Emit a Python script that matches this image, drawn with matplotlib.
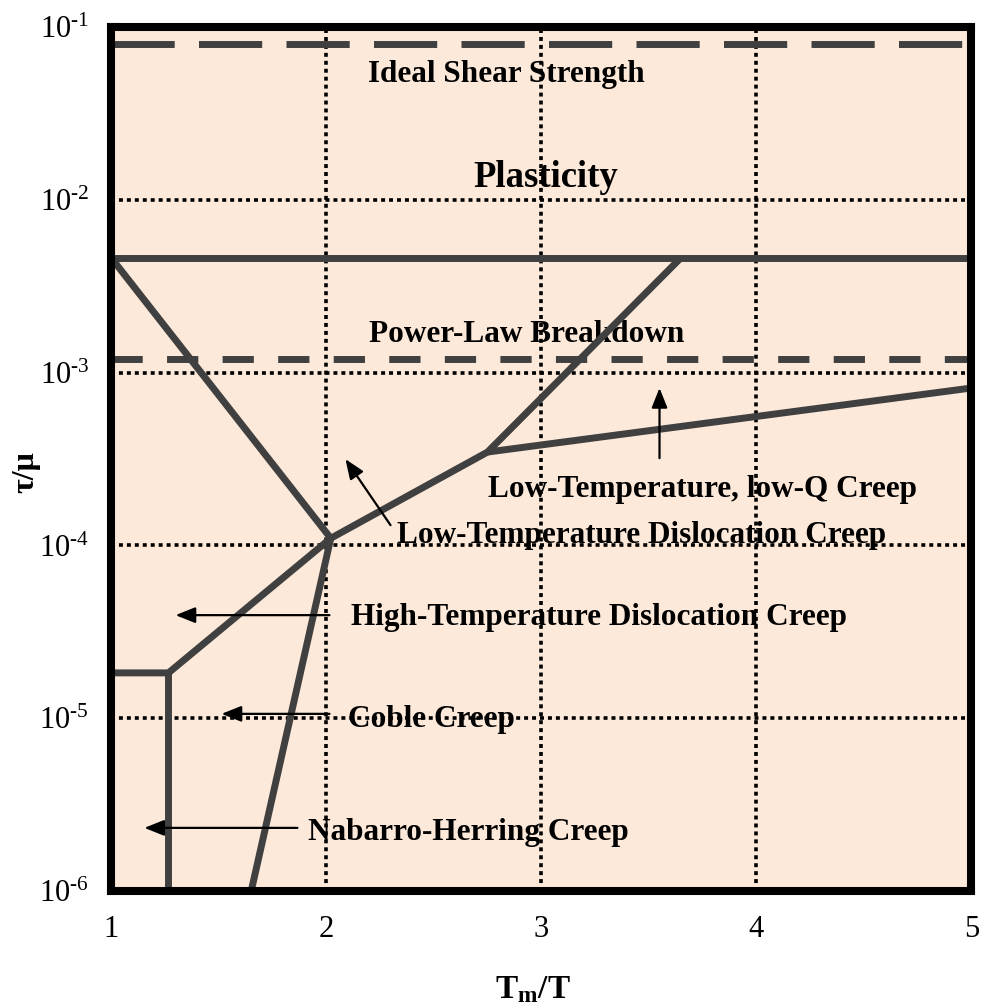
import matplotlib
matplotlib.use("Agg")
import matplotlib.pyplot as plt

plt.rcParams['font.family'] = ['Liberation Serif', 'DejaVu Serif']
plt.rcParams['mathtext.fontset'] = 'custom'
plt.rcParams['mathtext.rm'] = 'Liberation Serif'
plt.rcParams['mathtext.bf'] = 'Liberation Serif:bold'
plt.rcParams['mathtext.it'] = 'Liberation Serif:italic'

# --- ejes ---
x_ticks = [1, 2, 3, 4, 5]
y_ticks = [1e-1, 1e-2, 1e-3, 1e-4, 1e-5, 1e-6]
y_tick_labels = ['$10^{\u2010' + str(k) + '}$' for k in range(1, 7)]
grid_x = [2, 3, 4]
grid_y = [1e-2, 1e-3, 1e-4, 1e-5]

# --- límites de mecanismos (Tm/T, tau/mu) ---
plast_x, plast_y = [1.0, 5.0], [4.6e-3, 4.6e-3]
ltc_x, ltc_y = [1.0, 2.02, 1.65], [4.6e-3, 1.1e-4, 1e-6]
htc_x, htc_y = [1.0, 1.265, 2.02, 2.749, 3.647], [1.83e-5, 1.83e-5, 1.1e-4, 3.47e-4, 4.6e-3]
nh_x, nh_y = [1.265, 1.265], [1.83e-5, 1e-6]
lowq_x, lowq_y = [2.749, 5.0], [3.47e-4, 8.15e-4]
ideal_y = 0.08
plb_y = 1.2e-3

# --- flechas: (cola, punta) ---
arrows = [
    ((3.549, 3.2e-4), (3.549, 8.15e-4)),
    ((2.298, 1.31e-4), (2.088, 3.16e-4)),
    ((2.014, 3.95e-5), (1.298, 3.95e-5)),
    ((2.014, 1.06e-5), (1.512, 1.06e-5)),
    ((1.865, 2.32e-6), (1.153, 2.32e-6)),
]

# --- etiquetas: (texto, x, y, alineación, tamaño) ---
labels = [
    ('Ideal Shear Strength', 2.837, 0.0481, 'center', 22.5),
    ('Plasticity', 3.019, 0.01186, 'center', 26.5),
    ('Power-Law Breakdown', 2.930, 1.5e-3, 'center', 22.5),
    ('Low-Temperature, low-Q Creep', 2.753, 1.9e-4, 'left', 22.5),
    ('Low-Temperature Dislocation Creep', 2.330, 1.03e-4, 'left', 22.5),
    ('High-Temperature Dislocation Creep', 2.112, 3.46e-5, 'left', 22.5),
    ('Coble Creep', 2.098, 8.9e-6, 'left', 22.5),
    ('Nabarro-Herring Creep', 1.912, 1.97e-6, 'left', 22.5),
]

gris = '#404040'
fig = plt.figure(figsize=(9.82, 10.05), dpi=100)
ax = fig.add_axes([0.1135, 0.1134, 0.8758, 0.8597])
ax.set_facecolor('#FDE9D9')
ax.set_yscale('log')
ax.set_xlim(1, 5)
ax.set_ylim(1e-6, 1e-1)

# Rejilla punteada
for gx in grid_x:
    ax.axvline(gx, color='black', lw=2.6, linestyle=(0, (1.1, 1.1)), zorder=2.5)
for gy in grid_y:
    ax.axhline(gy, color='black', lw=2.6, linestyle=(0, (1.1, 1.1)), zorder=2.5)

# Líneas segmentadas
ax.axhline(ideal_y, color=gris, lw=5, linestyle=(0, (9.1, 3.5)), zorder=3)
ax.axhline(plb_y, color=gris, lw=5, linestyle=(0, (4.5, 3.5)), zorder=3)

# Límites
for xs, ys in [(plast_x, plast_y), (ltc_x, ltc_y), (htc_x, htc_y), (nh_x, nh_y), (lowq_x, lowq_y)]:
    ax.plot(xs, ys, color=gris, lw=5, solid_capstyle='butt', solid_joinstyle='miter', zorder=3)

# Flechas
for tail, head in arrows:
    ax.annotate('', xy=head, xytext=tail,
                arrowprops=dict(arrowstyle='-|>,head_length=0.6,head_width=0.24',
                                color='black', lw=1.6, shrinkA=0, shrinkB=0,
                                mutation_scale=20), zorder=3)

for txt, x, y, ha, fs in labels:
    ax.text(x, y, txt, ha=ha, va='baseline', fontsize=fs, fontweight='bold', zorder=2)

ax.set_xticks(x_ticks)
ax.set_xticklabels([str(t) for t in x_ticks])
ax.set_yticks(y_ticks)
ax.set_yticklabels(y_tick_labels)
ax.minorticks_off()
ax.tick_params(axis='both', length=0, labelsize=22)
ax.tick_params(axis='x', pad=17)
ax.tick_params(axis='y', pad=16)

for s in ax.spines.values():
    s.set_linewidth(5.8)
    s.set_color('black')
    s.set_zorder(5)

ax.set_xlabel(r'$\mathbf{T_m/T}$', fontsize=24)
ax.xaxis.set_label_coords(0.49, -0.097)
ax.set_ylabel('τ/μ', fontsize=23, fontweight='bold')
ax.yaxis.set_label_coords(-0.083, 0.485)

fig.savefig('out.png', dpi=100)
